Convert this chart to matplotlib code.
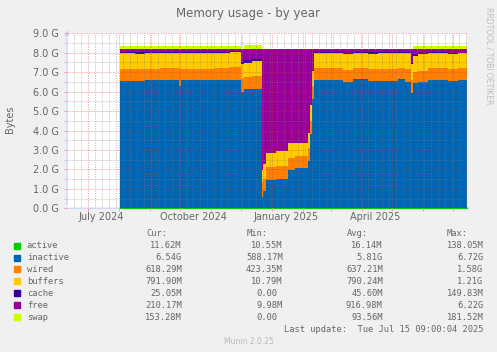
import matplotlib
matplotlib.use("Agg")
import matplotlib.pyplot as plt
from matplotlib.patches import Rectangle
import pandas as pd

W, H = 497, 352
DPI = 100

# ----------------------------------------------------------
# Data (values in G, each value holds until the next date)
# ----------------------------------------------------------

dates = [
    "2024-08-02", "2024-08-17", "2024-08-27", "2024-09-11", "2024-09-30",
    "2024-10-02", "2024-10-21", "2024-11-05", "2024-11-20", "2024-12-01",
    "2024-12-04", "2024-12-12", "2024-12-22", "2024-12-23", "2024-12-26",
    "2025-01-05", "2025-01-17", "2025-01-24", "2025-02-06", "2025-02-08",
    "2025-02-10", "2025-02-12", "2025-03-13", "2025-03-23", "2025-04-07",
    "2025-04-17", "2025-05-07", "2025-05-14", "2025-05-20", "2025-05-22",
    "2025-05-27", "2025-06-06", "2025-06-26", "2025-07-06",
]
end_date = "2025-07-15 09:00"

active = [0.015] * 34

inactive = [
    6.54, 6.51, 6.57, 6.56, 6.30, 6.56, 6.56, 6.57, 6.60, 5.95,
    6.10, 6.12, 0.58, 0.85, 1.45, 1.47, 1.97, 2.05, 2.40, 3.80,
    5.60, 6.57, 6.49, 6.61, 6.52, 6.55, 6.61, 6.49, 5.90, 6.44,
    6.47, 6.57, 6.52, 6.56,
]

wired = [
    0.63, 0.66, 0.60, 0.62, 0.85, 0.60, 0.60, 0.62, 0.64, 0.70,
    0.66, 0.66, 0.75, 0.65, 0.68, 0.70, 0.60, 0.60, 0.70, 0.70,
    0.65, 0.61, 0.63, 0.61, 0.61, 0.60, 0.61, 0.68, 0.70, 0.57,
    0.60, 0.62, 0.62, 0.62,
]

buffers = [
    0.80, 0.77, 0.81, 0.80, 0.80, 0.81, 0.79, 0.80, 0.80, 0.75,
    0.72, 0.80, 0.65, 0.78, 0.69, 0.75, 0.79, 0.69, 0.75, 0.80,
    0.82, 0.79, 0.80, 0.77, 0.80, 0.82, 0.77, 0.80, 0.80, 0.81,
    0.86, 0.78, 0.79, 0.79,
]

cache = [
    0.05, 0.09, 0.05, 0.05, 0.06, 0.05, 0.07, 0.04, 0.04, 0.10,
    0.12, 0.10, 0.00, 0.00, 0.00, 0.00, 0.00, 0.00, 0.00, 0.00,
    0.02, 0.03, 0.07, 0.03, 0.07, 0.03, 0.03, 0.03, 0.05, 0.10,
    0.05, 0.03, 0.04, 0.025,
]

free = [
    0.165, 0.155, 0.155, 0.155, 0.175, 0.165, 0.165, 0.155, 0.105, 0.685,
    0.585, 0.505, 6.205, 5.905, 5.365, 5.265, 4.825, 4.845, 4.335, 2.885,
    1.095, 0.185, 0.195, 0.165, 0.185, 0.185, 0.165, 0.185, 0.735, 0.265,
    0.205, 0.185, 0.215, 0.19,
]

swap = [
    0.17, 0.17, 0.17, 0.17, 0.17, 0.17, 0.17, 0.17, 0.17, 0.00,
    0.18, 0.18, 0.00, 0.00, 0.00, 0.00, 0.00, 0.00, 0.00, 0.00,
    0.00, 0.00, 0.00, 0.00, 0.00, 0.00, 0.00, 0.00, 0.00, 0.15,
    0.15, 0.15, 0.15, 0.153,
]

names = ["active", "inactive", "wired", "buffers", "cache", "free", "swap"]
colors = ["#00CC00", "#0066B3", "#FF8000", "#FFCC00", "#330099", "#990099", "#CCFF00"]

cur_vals = ["11.62M", "6.54G", "618.29M", "791.90M", "25.05M", "210.17M", "153.28M"]
min_vals = ["10.55M", "588.17M", "423.35M", "10.79M", "0.00", "9.98M", "0.00"]
avg_vals = ["16.14M", "5.81G", "637.21M", "790.24M", "45.60M", "916.98M", "93.56M"]
max_vals = ["138.05M", "6.72G", "1.58G", "1.21G", "149.83M", "6.22G", "181.52M"]

y_ticks = [0, 1, 2, 3, 4, 5, 6, 7, 8, 9]
x_label_dates = ["2024-07-15", "2024-10-15", "2025-01-15", "2025-04-15"]
x_labels = ["July 2024", "October 2024", "January 2025", "April 2025"]

# ----------------------------------------------------------
# Figure
# ----------------------------------------------------------

FONT = "#666666"
plt.rcParams["font.family"] = "DejaVu Sans"

fig = plt.figure(figsize=(W / DPI, H / DPI), dpi=DPI, facecolor="#F0F0F0")


def fx(px):
    return px / W


def fy(py):
    return 1 - py / H


ax = fig.add_axes([fx(67), fy(208.3), 400 / W, 175 / H])
ax.set_facecolor("#FFFFFF")

x = pd.to_datetime(dates + [end_date], format="mixed")
stack = [active, inactive, wired, buffers, cache, free, swap]
ys = [s + [s[-1]] for s in stack]

polys = ax.stackplot(x, *ys, colors=colors, step="post", linewidth=0, zorder=1)
polys[0].set_edgecolor(colors[0])
polys[0].set_linewidth(1.0)

ax.set_xlim(pd.Timestamp("2024-06-10 09:00"), pd.Timestamp(end_date))
ax.set_ylim(0, 9.0)

# ----------------------------------------------------------
# Grid
# ----------------------------------------------------------

dots = (0, (1, 1.4))
GRID = "#7C7C7C"
MGRID = "#DD3333"

for v in [i + 0.5 for i in range(9)]:
    ax.axhline(v, color=GRID, alpha=0.5, lw=0.72, ls=dots, zorder=2)
for v in y_ticks[1:]:
    ax.axhline(v, color=MGRID, alpha=0.5, lw=0.72, ls=dots, zorder=2)

months = pd.date_range("2024-07-01", "2025-07-01", freq="MS")
weeks = pd.date_range("2024-06-17", "2025-07-14", freq="W-MON")
for d in weeks:
    if d not in months:
        ax.axvline(d, color=GRID, alpha=0.5, lw=0.72, ls=dots, zorder=2)
for d in months:
    ax.axvline(d, color=MGRID, alpha=0.5, lw=0.72, ls=dots, zorder=2)

for s in ax.spines.values():
    s.set_visible(False)

# ----------------------------------------------------------
# Ticks
# ----------------------------------------------------------

ax.set_yticks(y_ticks)
ax.set_yticklabels([f"{v:.1f} G" for v in y_ticks])
ax.set_yticks([i + 0.5 for i in range(9)], minor=True)
ax.tick_params(axis="y", which="major", length=2, width=0.7, color="#F0A0A0",
               labelsize=7, labelcolor=FONT, pad=4)
ax.tick_params(axis="y", which="minor", length=2, width=0.7, color="#CCCCCC")

ax.set_xticks(pd.to_datetime(x_label_dates))
ax.set_xticklabels(x_labels)
ax.set_xticks(months, minor=True)
ax.tick_params(axis="x", which="major", length=0, labelsize=7, labelcolor=FONT, pad=3)
ax.tick_params(axis="x", which="minor", length=2, width=0.7, color="#F0A0A0")

# axis lines with arrows
ax.annotate("", xy=(0, 1.035), xytext=(0, 0), xycoords="axes fraction",
            arrowprops=dict(arrowstyle="-|>", color="#CFD6F8", lw=1, mutation_scale=7),
            annotation_clip=False, zorder=0.5)
ax.annotate("", xy=(1.015, 0), xytext=(-0.01, 0), xycoords="axes fraction",
            arrowprops=dict(arrowstyle="-|>", color="#CFD6F8", lw=1, mutation_scale=7),
            annotation_clip=False, zorder=0.5)

# ----------------------------------------------------------
# Texts
# ----------------------------------------------------------

fig.text(fx(248.5), fy(14), "Memory usage - by year", ha="center", va="center",
         fontsize=8.5, color=FONT)
fig.text(fx(10), fy(119.5), "Bytes", ha="center", va="center", rotation=90,
         fontsize=7, color=FONT)
fig.text(fx(489), fy(56), "RRDTOOL / TOBI OETIKER", ha="center", va="center",
         rotation=270, fontsize=5.5, color="#BBBBBB")

MONO = "DejaVu Sans Mono"
MS = 6.3
CHAR = 5.27

headers = ["Cur:", "Min:", "Avg:", "Max:"]
header_x = [146, 246.7, 346.7, 446.7]
col_right = [181.7, 282.7, 382.7, 483.3]

for hx, h in zip(header_x, headers):
    fig.text(fx(hx), fy(233), h, ha="left", va="center", family=MONO,
             fontsize=MS, color=FONT)

row_y = [245.7, 257.5, 269.4, 281.3, 293.2, 305.1, 317.0]
for i, name in enumerate(names):
    yy = row_y[i]
    fig.patches.append(Rectangle((fx(14), fy(yy + 3)), 6 / W, 6 / H,
                                 transform=fig.transFigure, color=colors[i]))
    fig.text(fx(26.7), fy(yy), name, ha="left", va="center", family=MONO,
             fontsize=MS, color=FONT)
    for cx, vals in zip(col_right, [cur_vals, min_vals, avg_vals, max_vals]):
        v = vals[i]
        edge = cx if v[-1].isalpha() else cx - CHAR
        fig.text(fx(edge), fy(yy), v, ha="right", va="center", family=MONO,
                 fontsize=MS, color=FONT)

fig.text(fx(483.3), fy(329.5), "Last update:  Tue Jul 15 09:00:04 2025",
         ha="right", va="center", family=MONO, fontsize=MS, color=FONT)
fig.text(fx(248.8), fy(341), "Munin 2.0.25", ha="center", va="center",
         fontsize=5.5, color="#BBBBBB")

fig.savefig("out.png", dpi=DPI, facecolor=fig.get_facecolor())
